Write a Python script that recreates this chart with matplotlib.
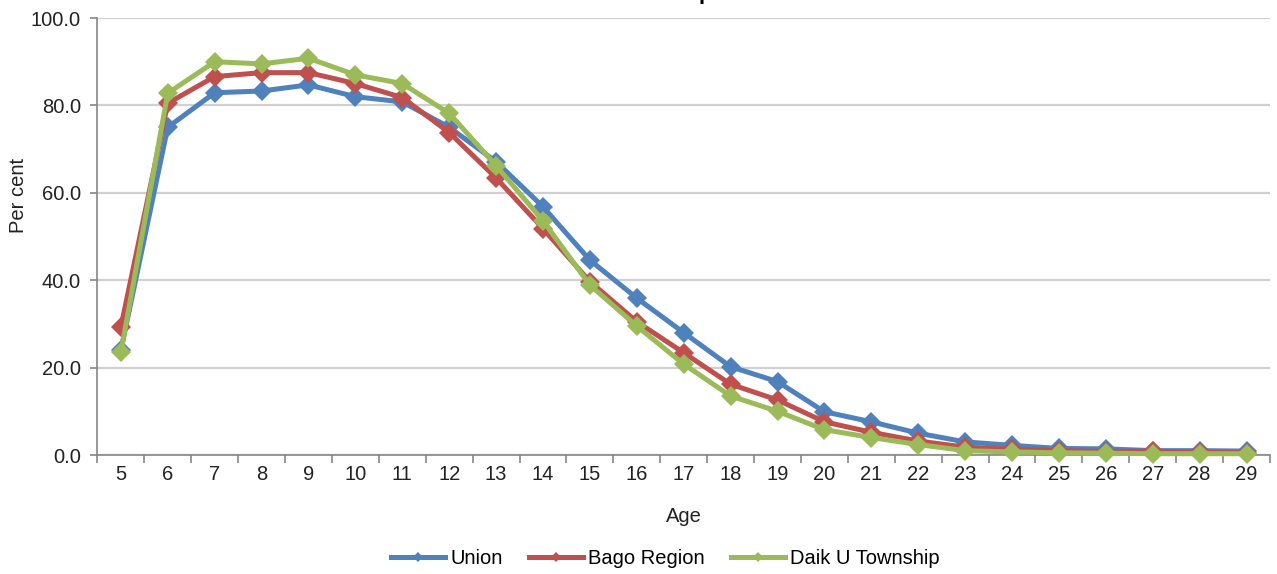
import matplotlib
matplotlib.use("Agg")
import matplotlib.pyplot as plt
from matplotlib.lines import Line2D

ages = [str(a) for a in range(5, 30)]
union = [24.0, 75.0, 82.9, 83.3, 84.7, 82.0, 80.8, 75.0, 67.1, 56.8, 44.6, 35.9, 28.0, 20.2, 16.8,
         9.9, 7.6, 5.0, 3.0, 2.2, 1.5, 1.4, 1.0, 1.0, 0.9]
bago = [29.3, 80.5, 86.6, 87.5, 87.5, 85.0, 81.8, 73.8, 63.4, 51.8, 39.7, 30.5, 23.4, 16.2, 12.6,
        7.6, 5.2, 3.2, 1.8, 1.3, 1.0, 0.8, 0.9, 0.6, 0.5]
daik = [23.5, 82.8, 90.0, 89.5, 90.8, 87.0, 85.0, 78.2, 66.2, 53.6, 38.9, 29.5, 20.8, 13.5, 10.0,
        5.8, 4.0, 2.4, 1.0, 0.7, 0.5, 0.4, 0.3, 0.3, 0.3]
series_names = ["Union", "Bago Region", "Daik U Township"]
colors = ["#4F81BD", "#C0504D", "#9BBB59"]

plt.rcParams['font.family'] = ['Liberation Sans', 'DejaVu Sans']
FS = 14.5
TXT = "#222222"

fig = plt.figure(figsize=(12.77, 5.74), dpi=100)
ax = fig.add_axes([0.0763, 0.2073, 0.9182, 0.7613])

x = list(range(len(ages)))
for vals, c in zip([union, bago, daik], colors):
    ax.plot(x, vals, color=c, lw=3.6, marker='D', markersize=10.5, markeredgewidth=0,
            zorder=3, clip_on=False)

ax.set_xlim(-0.5, len(ages) - 0.5)
ax.set_ylim(0, 100)
ax.set_yticks([0, 20, 40, 60, 80, 100])
ax.set_yticklabels([f"{v:.1f}" for v in [0, 20, 40, 60, 80, 100]], fontsize=FS, color=TXT)
ax.set_xticks(x)
ax.set_xticklabels(ages, fontsize=FS, color=TXT)
ax.set_xticks([i - 0.5 for i in range(len(ages) + 1)], minor=True)
ax.tick_params(axis='x', which='major', length=0, pad=7)
ax.tick_params(axis='x', which='minor', length=6, color="#868686", width=1.2)
ax.tick_params(axis='y', length=5, color="#868686", width=1.2, pad=7)

ax.grid(axis='y', color="#d0d0d0", lw=1.6, zorder=0)
ax.set_axisbelow(True)
for s in ['top', 'right']:
    ax.spines[s].set_visible(False)
for s in ['left', 'bottom']:
    ax.spines[s].set_color("#868686")
    ax.spines[s].set_linewidth(1.2)

ax.set_xlabel("Age", fontsize=FS, color=TXT)
ax.xaxis.set_label_coords(0.5, -0.119)
ax.set_ylabel("Per cent", fontsize=FS, color=TXT)
ax.yaxis.set_label_coords(-0.059, 0.595)

handles = [Line2D([0], [0], color=c, lw=3.6, marker='D', markersize=5.5, markeredgewidth=0)
           for c in colors]
fig.legend(handles, series_names, loc='center', bbox_to_anchor=(0.521, 0.027), ncol=3,
           frameon=False, fontsize=FS, handlelength=2.7, handletextpad=0.25, columnspacing=1.3)

# title cut off at top of image (only descender visible)
fig.text(0.552, 1.002, "p", fontsize=16, fontweight='bold', ha='center', va='baseline')

fig.savefig("out.png", dpi=100)
